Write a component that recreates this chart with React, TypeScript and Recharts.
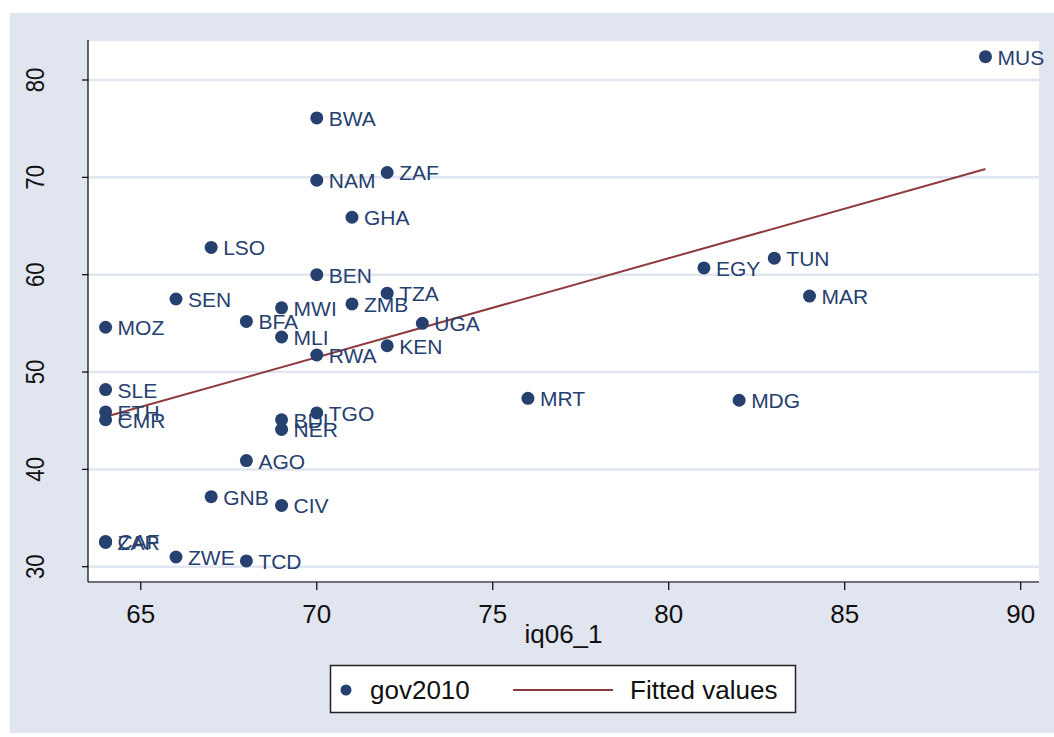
import { ScatterChart, Scatter, XAxis, YAxis, CartesianGrid, Label } from 'recharts';

// gov2010 vs iq06_1, one point per country
const countries = [
  'MUS', 'BWA', 'NAM', 'ZAF', 'GHA', 'LSO', 'BEN', 'TUN', 'EGY', 'SEN',
  'MWI', 'ZMB', 'TZA', 'MAR', 'MOZ', 'BFA', 'UGA', 'MLI', 'KEN', 'RWA',
  'SLE', 'MRT', 'MDG', 'ETH', 'CMR', 'TGO', 'BDI', 'NER', 'AGO', 'GNB',
  'CIV', 'CAF', 'ZAR', 'ZWE', 'TCD',
];
const iq06 = [
  89, 70, 70, 72, 71, 67, 70, 83, 81, 66,
  69, 71, 72, 84, 64, 68, 73, 69, 72, 70,
  64, 76, 82, 64, 64, 70, 69, 69, 68, 67,
  69, 64, 64, 66, 68,
];
const gov2010 = [
  82.4, 76.1, 69.7, 70.5, 65.9, 62.8, 60.0, 61.7, 60.7, 57.5,
  56.6, 57.0, 58.1, 57.8, 54.6, 55.2, 55.0, 53.6, 52.7, 51.75,
  48.2, 47.3, 47.1, 45.9, 45.1, 45.8, 45.1, 44.1, 40.9, 37.2,
  36.3, 32.6, 32.5, 31.0, 30.6,
];

// fitted values (end points of the OLS line)
const fitX = [64, 89];
const fitY = [45.4, 70.86];

const xTicks = [65, 70, 75, 80, 85, 90];
const yTicks = [30, 40, 50, 60, 70, 80];

const points = countries.map((c, i) => ({ x: iq06[i], y: gov2010[i], name: c }));
const fitted = fitX.map((x, i) => ({ x, y: fitY[i] }));

const NAVY = '#26406f';
const MAROON = '#8f3a3f';
const BG = '#e1e5ef';
const FONT = '"Liberation Sans", Arial, Helvetica, sans-serif';

const Dot = (props: any) => {
  const { cx, cy, payload } = props;
  if (cx == null || cy == null) return <g />;
  return (
    <g>
      <circle cx={cx} cy={cy} r={6.5} fill={NAVY} />
      <text x={cx + 12} y={cy + 8} fontSize={21} fill={NAVY} fontFamily={FONT}>
        {payload.name}
      </text>
    </g>
  );
};

const NoShape = () => <g />;

const YTick = (props: any) => {
  const { y, payload } = props;
  return (
    <text
      transform={`translate(34, ${y}) rotate(-90) scale(0.85, 1)`}
      textAnchor="middle"
      fontSize={26}
      fill="#111"
      fontFamily={FONT}
    >
      {payload.value}
    </text>
  );
};

const XTick = (props: any) => {
  const { x, payload } = props;
  return (
    <text x={x} y={610} textAnchor="middle" fontSize={26} fill="#111" fontFamily={FONT}>
      {payload.value}
    </text>
  );
};

export default function App() {
  return (
    <div style={{ position: 'absolute', left: 0, top: 0, width: 1054, height: 737, background: '#fff' }}>
      <div style={{ position: 'absolute', left: 10, top: 13, width: 1044, height: 720, background: BG }}>
        <ScatterChart width={1044} height={720} margin={{ top: 27, right: 15, bottom: 91, left: 0 }}>
          <CartesianGrid
            vertical={false}
            fill="#fff"
            stroke={BG}
            strokeWidth={2.5}
          />
          <XAxis
            type="number"
            dataKey="x"
            domain={[63.5, 90.52]}
            ticks={xTicks}
            height={60}
            tickSize={8}
            axisLine={{ stroke: '#000', strokeWidth: 1.2 }}
            tickLine={{ stroke: '#000', strokeWidth: 1.2 }}
            tick={<XTick />}
          >
            <Label
              content={() => (
                <text x={553.5} y={630} textAnchor="middle" fontSize={26} fill="#111" fontFamily={FONT}>
                  iq06_1
                </text>
              )}
            />
          </XAxis>
          <YAxis
            type="number"
            dataKey="y"
            domain={[28.43, 84.11]}
            ticks={yTicks}
            width={78}
            tickSize={6}
            axisLine={{ stroke: '#000', strokeWidth: 1.2 }}
            tickLine={{ stroke: '#000', strokeWidth: 1.2 }}
            tick={<YTick />}
          />
          <Scatter
            data={fitted}
            line={{ stroke: MAROON, strokeWidth: 2 }}
            shape={<NoShape />}
            isAnimationActive={false}
          />
          <Scatter data={points} shape={<Dot />} isAnimationActive={false} />
        </ScatterChart>
      </div>
      <svg
        width={1054}
        height={737}
        style={{ position: 'absolute', left: 0, top: 0, pointerEvents: 'none' }}
      >
        <rect x={330.5} y={665.5} width={465} height={47} fill="#fff" stroke="#222" strokeWidth={1.5} />
        <circle cx={346} cy={690} r={5.5} fill={NAVY} />
        <text x={370} y={699} fontSize={26} fill="#111" fontFamily={FONT}>
          gov2010
        </text>
        <line x1={513} y1={690} x2={613} y2={690} stroke={MAROON} strokeWidth={2} />
        <text x={630} y={699} fontSize={26} fill="#111" fontFamily={FONT}>
          Fitted values
        </text>
      </svg>
    </div>
  );
}
